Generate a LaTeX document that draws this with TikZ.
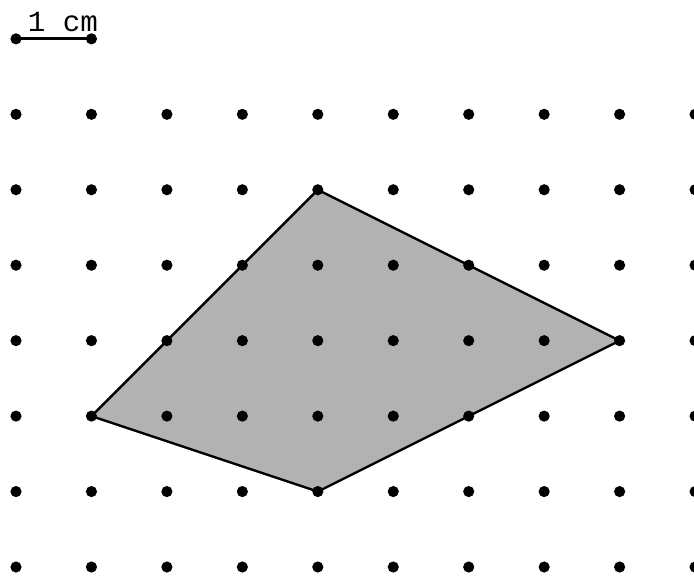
\documentclass[tikz,border=0pt]{standalone}
\usepackage{fontspec}
\newfontfamily\monofont{Liberation Mono}
\begin{document}
\begin{tikzpicture}[
  gdot/.style={fill=black, draw=none},
  edge/.style={draw=black, line width=0.9pt, line join=miter},
  barline/.style={draw=black, line width=1.1pt},
  region/.style={fill=black!30}
]
\useasboundingbox (-0.212,-0.106) rectangle (8.986,7.515);
% polygon corners
\coordinate (A) at (4,5);
\coordinate (B) at (8,3);
\coordinate (C) at (4,1);
\coordinate (D) at (1,2);
\path[region] (A) -- (B) -- (C) -- (D) -- cycle;
\draw[edge] (A) -- (B) -- (C) -- (D) -- cycle;
% grid of dots
\foreach \i in {0,...,9}{
  \foreach \j in {0,...,6}{
    \fill[gdot] (\i,\j) circle (0.074);
  }
}
% scale bar
\coordinate (S0) at (0,7);
\coordinate (S1) at (1,7);
\draw[barline] (S0) -- (S1);
\fill[gdot] (S0) circle (0.074);
\fill[gdot] (S1) circle (0.074);
\node[anchor=base west, inner sep=0pt, font=\monofont\fontsize{11}{13}\selectfont] (lbl) at (0.15,7.10) {1 cm};
\end{tikzpicture}
\end{document}
